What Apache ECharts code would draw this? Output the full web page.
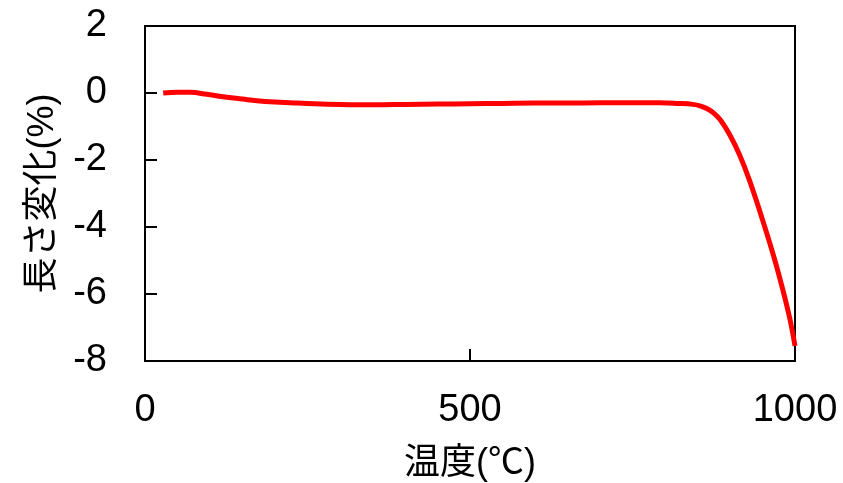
<!DOCTYPE html>
<html>
<head>
<meta charset="utf-8">
<script src="https://cdn.jsdelivr.net/npm/echarts@6/dist/echarts.min.js"></script>
<style>
  html, body { margin: 0; padding: 0; background: #fff; }
  #chart { width: 843px; height: 483px; }
</style>
</head>
<body>
<div id="chart"></div>
<script>
// 温度 (℃)
const temps = [28, 50, 70, 95, 120, 150, 172, 200, 223, 260, 300, 350, 403, 450, 500, 550, 600, 650, 700, 750, 792, 820, 843, 855, 865, 875, 885, 900, 915, 930, 950, 970, 990, 1000]
// 長さ変化 (%)
const changes = [0, 0.02, 0.02, -0.04, -0.11, -0.18, -0.23, -0.27, -0.29, -0.32, -0.34, -0.35, -0.34, -0.33, -0.32, -0.31, -0.30, -0.30, -0.29, -0.29, -0.29, -0.31, -0.34, -0.39, -0.47, -0.6, -0.8, -1.26, -1.86, -2.61, -3.78, -5.06, -6.56, -7.55]

const xTicks = { min: 0, max: 1000, step: 500 }
const yTicks = { min: -8, max: 2, step: 2 }

const myChart = echarts.init(document.getElementById('chart'))

const fontFamily = 'Liberation Sans, Noto Sans CJK JP, sans-serif'

const option = {
  animation: false,
  grid: {
    left: 145,
    right: 48,
    top: 26,
    bottom: 122,
    outerBoundsMode: 'none',
    show: true,
    borderColor: '#000',
    borderWidth: 2
  },
  xAxis: {
    type: 'value',
    min: xTicks.min,
    max: xTicks.max,
    interval: xTicks.step,
    name: '温度(℃)',
    nameLocation: 'middle',
    nameGap: 85,
    nameTextStyle: { fontSize: 36, color: '#000', fontFamily: fontFamily },
    axisLine: { onZero: false, lineStyle: { color: '#000', width: 2 } },
    axisTick: { inside: true, length: 12, lineStyle: { color: '#000', width: 2 } },
    axisLabel: { fontSize: 38, color: '#000', margin: 31, fontFamily: fontFamily, formatter: v => String(v) },
    splitLine: { show: false }
  },
  yAxis: {
    type: 'value',
    min: yTicks.min,
    max: yTicks.max,
    interval: yTicks.step,
    name: '長さ変化(%)',
    nameLocation: 'middle',
    nameGap: 84,
    nameTextStyle: { fontSize: 36, color: '#000', fontFamily: fontFamily },
    axisLine: { onZero: false, lineStyle: { color: '#000', width: 2 } },
    axisTick: { inside: true, length: 12, lineStyle: { color: '#000', width: 2 } },
    axisLabel: { fontSize: 38, color: '#000', margin: 38, fontFamily: fontFamily },
    splitLine: { show: false }
  },
  series: [
    {
      type: 'line',
      data: temps.map((t, i) => [t, changes[i]]),
      smooth: 0.4,
      showSymbol: false,
      lineStyle: { color: '#ff0000', width: 5 }
    }
  ]
}

myChart.setOption(option)
</script>
</body>
</html>
